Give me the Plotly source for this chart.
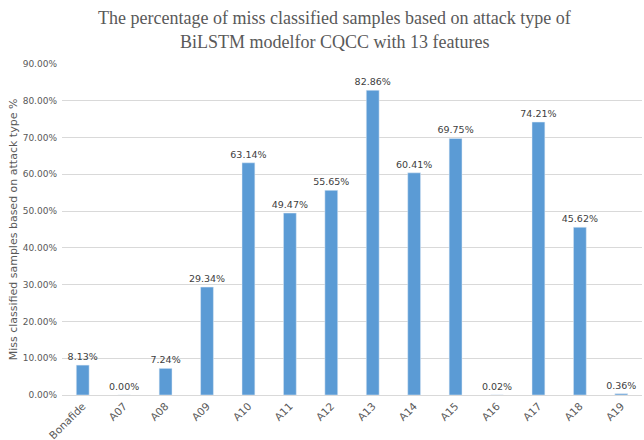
import plotly.graph_objects as go

categories = ["Bonafide", "A07", "A08", "A09", "A10", "A11", "A12",
              "A13", "A14", "A15", "A16", "A17", "A18", "A19"]
miss_rate = [0.0813, 0.0000, 0.0724, 0.2934, 0.6314, 0.4947, 0.5565,
             0.8286, 0.6041, 0.6975, 0.0002, 0.7421, 0.4562, 0.0036]
y_ticks = [0.0, 0.1, 0.2, 0.3, 0.4, 0.5, 0.6, 0.7, 0.8, 0.9]
title_lines = [
    "The percentage of miss classified samples based on attack type of",
    "BiLSTM modelfor CQCC with 13 features",
]

fig = go.Figure(
    go.Bar(
        x=categories,
        y=miss_rate,
        marker=dict(color="#5b9bd5"),
        text=[f"{v * 100:.2f}%" for v in miss_rate],
        textposition="outside",
        constraintext="none",
        textfont=dict(family="DejaVu Sans", size=9.5, color="#404040"),
        cliponaxis=False,
    )
)

# two-line chart title placed in pixel space above the plot area
for i, line in enumerate(title_lines):
    fig.add_annotation(
        text=line,
        xref="paper", yref="paper",
        x=0.47, y=1.0,
        yshift=46 - i * 24,
        xanchor="center", yanchor="middle",
        showarrow=False,
        font=dict(family="Liberation Serif", size=18, color="#595959"),
    )

fig.update_layout(
    width=644,
    height=440,
    margin=dict(l=62, r=2, t=64, b=45),
    paper_bgcolor="white",
    plot_bgcolor="white",
    bargap=0.69,
    showlegend=False,
)

fig.update_xaxes(
    tickangle=-45,
    tickfont=dict(family="DejaVu Sans", size=10.5, color="#595959"),
    showline=True,
    linecolor="#d9d9d9",
    ticks="",
    automargin=False,
)

fig.update_yaxes(
    range=[0, 0.9],
    tickvals=y_ticks,
    tickformat=".2%",
    tickfont=dict(family="DejaVu Sans", size=9, color="#595959"),
    ticklabelstandoff=4,
    showgrid=True,
    gridcolor="#d9d9d9",
    zeroline=False,
    title=dict(
        text="Miss classified samples based on attack type %",
        font=dict(family="DejaVu Sans", size=11, color="#595959"),
        standoff=2,
    ),
)

fig.write_html("out.html")
